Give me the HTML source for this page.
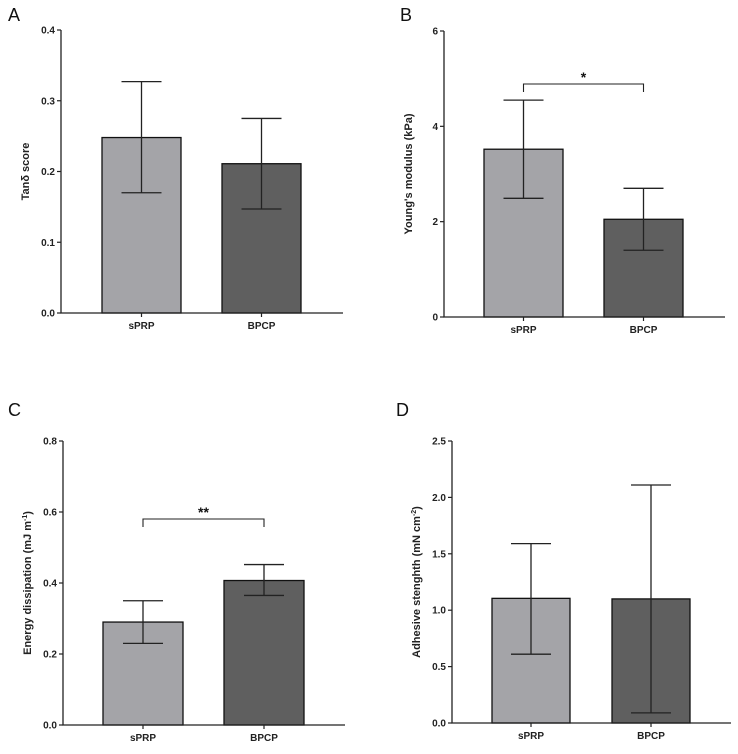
<!DOCTYPE html>
<html><head><meta charset="utf-8"><style>
body{margin:0;background:#fff;width:738px;height:749px;overflow:hidden}
svg{font-family:"Liberation Sans",Arial,sans-serif}
</style></head><body>
<svg id="fig" width="738" height="749"></svg>
<script>
const categories=["sPRP","BPCP"];
const aMeans=[0.248,0.211];const aLo=[0.170,0.147];const aHi=[0.327,0.275];const aTicks=["0.0","0.1","0.2","0.3","0.4"];
const bMeans=[3.52,2.05];const bLo=[2.49,1.40];const bHi=[4.55,2.70];const bTicks=["0","2","4","6"];
const cMeans=[0.290,0.407];const cLo=[0.230,0.365];const cHi=[0.350,0.452];const cTicks=["0.0","0.2","0.4","0.6","0.8"];
const dMeans=[1.105,1.10];const dLo=[0.61,0.09];const dHi=[1.59,2.11];const dTicks=["0.0","0.5","1.0","1.5","2.0","2.5"];
const NS="http://www.w3.org/2000/svg";const svg=document.getElementById('fig');
function mk(tag,at,parent,txt){const e=document.createElementNS(NS,tag);for(const k in at)e.setAttribute(k,at[k]);if(txt!==undefined)e.textContent=txt;(parent||svg).appendChild(e);return e;}
const colors=["#a4a4a8","#5f5f5f"];
function panel(p){
  const g=mk('g',{});
  
  
  const ymax=parseFloat(p.ticks[p.ticks.length-1]);
  const y=v=>p.y0-(v/ymax)*(p.y0-p.yTop);
  const lt=mk('text',{x:p.lx,y:p.ly,'font-size':18,fill:'#111'},g,p.letter);
  
  p.ticks.forEach(t=>{const v=parseFloat(t);const yy=y(v);
    mk('line',{x1:p.ax-4,x2:p.ax,y1:yy,y2:yy,stroke:'#222','stroke-width':1.2},g);
    const tx=mk('text',{x:p.ax-6,y:yy+3.5,'font-size':10,'font-weight':'bold','text-anchor':'end',fill:'#222'},g,t);
    });
  const yt=mk('text',{transform:`translate(${p.ax-32},${(p.y0+p.yTop)/2}) rotate(-90)`,'font-size':11,'font-weight':'bold','text-anchor':'middle',fill:'#222'},g);
  yt.innerHTML=p.title;
  
  p.means.forEach((m,i)=>{
    const x0=p.bx[i],w=p.bw,cx=x0+w/2;
    const r=mk('rect',{x:x0,y:y(m),width:w,height:p.y0-y(m),fill:colors[i],stroke:'#111','stroke-width':1.3},g);
    
    const e=mk('path',{d:`M${cx},${y(p.lo[i])}V${y(p.hi[i])}M${cx-20},${y(p.lo[i])}H${cx+20}M${cx-20},${y(p.hi[i])}H${cx+20}`,stroke:'#222','stroke-width':1.3,fill:'none'},g);
    
    mk('line',{x1:cx,x2:cx,y1:p.y0,y2:p.y0+4,stroke:'#222','stroke-width':1.2},g);
    const c=mk('text',{x:cx,y:p.y0+16,'font-size':10,'font-weight':'bold','text-anchor':'middle',fill:'#222'},g,categories[i]);
    
  });
  mk('path',{d:`M${p.ax},${p.yTop}V${p.y0}H${p.axEnd}`,stroke:'#222','stroke-width':1.3,fill:'none'},g);
  if(p.sig){const c1=p.bx[0]+p.bw/2,c2=p.bx[1]+p.bw/2;
    const b=mk('path',{d:`M${c1},${p.sig.y+8}V${p.sig.y}H${c2}V${p.sig.y+8}`,stroke:'#222','stroke-width':1.1,fill:'none'},g);
    
    const s=mk('text',{x:(c1+c2)/2,y:p.sig.y-2,'font-size':14,'font-weight':'bold','text-anchor':'middle',fill:'#111'},g,p.sig.t);
    }
}
panel({letter:'A',lx:8,ly:21,ax:61,yTop:30,y0:313,axEnd:343,bx:[102,222],bw:79,ticks:aTicks,means:aMeans,lo:aLo,hi:aHi,title:'Tanδ score'});
panel({letter:'B',lx:400,ly:21,ax:444,yTop:31,y0:317,axEnd:725,bx:[484,604],bw:79,ticks:bTicks,means:bMeans,lo:bLo,hi:bHi,title:"Young's modulus (kPa)",sig:{y:84,t:'*'}});
panel({letter:'C',lx:8,ly:416,ax:63,yTop:441,y0:725,axEnd:345,bx:[103,224],bw:80,ticks:cTicks,means:cMeans,lo:cLo,hi:cHi,title:'Energy dissipation (mJ m<tspan dy="-4" font-size="7">-1</tspan><tspan dy="4">)</tspan>',sig:{y:519,t:'**'}});
panel({letter:'D',lx:396,ly:416,ax:452,yTop:441,y0:723,axEnd:731,bx:[492,612],bw:78,ticks:dTicks,means:dMeans,lo:dLo,hi:dHi,title:'Adhesive stenghth (mN cm<tspan dy="-4" font-size="7">-2</tspan><tspan dy="4">)</tspan>'});
</script>
</body></html>
